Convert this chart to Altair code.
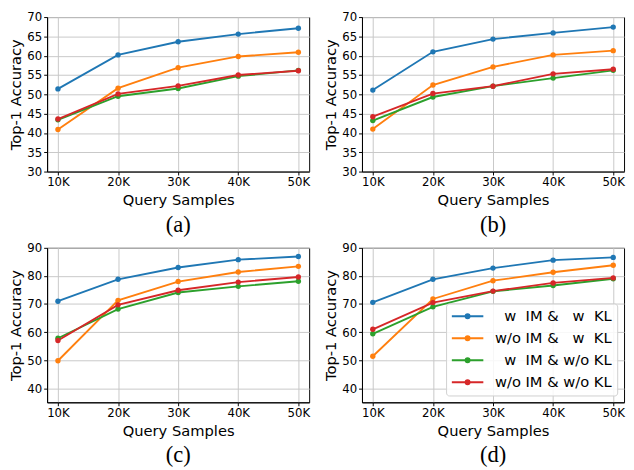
import altair as alt
import pandas as pd

NB = "\u00a0"
ZW = "\u200b"
samples = [10, 20, 30, 40, 50]
series = [
    f"{ZW}{NB}{NB}w{NB}{NB}IM{NB}&{NB}{NB}{NB}w{NB}{NB}KL",
    f"w/o{NB}IM{NB}&{NB}{NB}{NB}w{NB}{NB}KL",
    f"{ZW}{NB}{NB}w{NB}{NB}IM{NB}&{NB}w/o{NB}KL",
    f"w/o{NB}IM{NB}&{NB}w/o{NB}KL",
]
colors = ["#1f77b4", "#ff7f0e", "#2ca02c", "#d62728"]

# panel (a)
a_w_w = [51.4, 60.2, 63.6, 65.6, 67.1]
a_wo_w = [40.9, 51.6, 56.9, 59.8, 60.9]
a_w_wo = [43.4, 49.5, 51.5, 54.7, 56.2]
a_wo_wo = [43.6, 50.1, 52.2, 55.0, 56.1]
# panel (b)
b_w_w = [51.1, 61.0, 64.3, 65.9, 67.4]
b_wo_w = [41.0, 52.4, 57.1, 60.2, 61.3]
b_w_wo = [43.2, 49.3, 52.1, 54.2, 56.2]
b_wo_wo = [44.2, 50.2, 52.1, 55.3, 56.5]
# panel (c)
c_w_w = [71.0, 78.8, 83.0, 85.8, 86.9]
c_wo_w = [49.8, 71.3, 78.0, 81.4, 83.4]
c_w_wo = [57.8, 68.2, 74.1, 76.3, 78.1]
c_wo_wo = [57.0, 69.7, 74.9, 77.8, 79.6]
# panel (d)
d_w_w = [70.6, 78.8, 82.8, 85.6, 86.6]
d_wo_w = [51.4, 71.8, 78.3, 81.3, 83.8]
d_w_wo = [59.4, 69.0, 74.5, 76.6, 79.0]
d_wo_wo = [61.0, 70.5, 74.6, 77.5, 79.3]

panels = {
    "a": [a_w_w, a_wo_w, a_w_wo, a_wo_wo],
    "b": [b_w_w, b_wo_w, b_w_wo, b_wo_wo],
    "c": [c_w_w, c_wo_w, c_w_wo, c_wo_wo],
    "d": [d_w_w, d_wo_w, d_w_wo, d_wo_wo],
}

rows = []
for p, lists in panels.items():
    for s, vals in zip(series, lists):
        for k, v in zip(samples, vals):
            rows.append({"panel": p, "series": s, "k": k, "acc": v})
df = pd.DataFrame(rows)

W, H = 268, 158
# line segment with a dot in the middle (dot drawn as two concentric rings)
legend_path = ("M-2.3,0L2.3,0"
               "M-0.13,0A0.13,0.13 0 1,1 0.13,0A0.13,0.13 0 1,1 -0.13,0Z"
               "M-0.29,0A0.29,0.29 0 1,1 0.29,0A0.29,0.29 0 1,1 -0.29,0Z")


def panel(p, ydom, yvals, show_legend):
    d = df[df.panel == p]
    base = alt.Chart(d)
    if show_legend:
        leg = alt.Legend(title=None, orient="bottom-right", offset=7,
                         labelFont="DejaVu Sans", labelFontSize=15,
                         labelColor="black", labelLimit=400,
                         symbolType=legend_path, symbolSize=196,
                         symbolStrokeWidth=2, symbolOffset=9, labelOffset=20,
                         rowPadding=6.5, padding=5, cornerRadius=3,
                         strokeColor="#d0d0d0", fillColor="rgba(255,255,255,0.85)")
    else:
        leg = None
    color = alt.Color("series:N", scale=alt.Scale(domain=series, range=colors),
                      sort=series, legend=leg)
    x = alt.X("k:Q", scale=alt.Scale(domain=[8.2, 51.8], nice=False, zero=False),
              axis=alt.Axis(values=samples, labelExpr="datum.value + 'K'",
                            title="Query Samples", titlePadding=5))
    y = alt.Y("acc:Q", scale=alt.Scale(domain=ydom, nice=False, zero=False),
              axis=alt.Axis(values=yvals, title="Top-1 Accuracy", titlePadding=3))
    line = base.mark_line(strokeWidth=1.9).encode(x=x, y=y, color=color)
    pts = base.mark_circle(size=30, opacity=1).encode(x=x, y=y, color=color)
    return alt.layer(line, pts).properties(
        width=W, height=H,
        title=alt.TitleParams(text=f"({p})", orient="bottom", font="Liberation Serif",
                              fontSize=23, fontWeight="normal", color="black", offset=7),
    )


ya = [30, 35, 40, 45, 50, 55, 60, 65, 70]
yc = [40, 50, 60, 70, 80, 90]
top = alt.hconcat(panel("a", [30, 70], ya, False), panel("b", [30, 70], ya, False),
                  spacing=12).resolve_scale(color="independent").resolve_legend(color="independent")
bot = alt.hconcat(panel("c", [35, 90], yc, False), panel("d", [35, 90], yc, True),
                  spacing=12).resolve_scale(color="independent").resolve_legend(color="independent")

chart = alt.vconcat(top, bot, spacing=4).resolve_scale(color="independent").resolve_legend(
    color="independent"
).properties(padding={"top": -3, "left": 0, "right": 0, "bottom": 0}).configure_view(
    stroke="black", strokeWidth=1
).configure_axis(
    domainColor="black", tickColor="black", tickSize=3.5, tickWidth=1,
    gridColor="#c8c8c8", gridWidth=1,
    labelFont="DejaVu Sans", labelFontSize=12, labelColor="black", labelPadding=2,
    titleFont="DejaVu Sans", titleFontSize=15, titleFontWeight="normal",
    titleColor="black",
)

chart.save("out.html", embed_options={"renderer": "svg", "actions": False})
